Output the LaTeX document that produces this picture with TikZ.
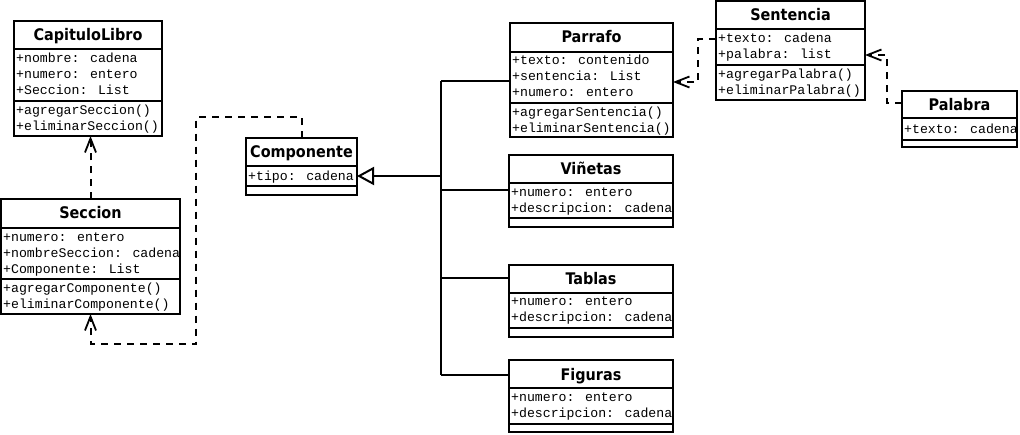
\documentclass[tikz,border=0pt]{standalone}
\usepackage{fontspec}
\usetikzlibrary{arrows.meta}
\newfontfamily\titlefont{DejaVu Sans Condensed}[BoldFont={DejaVu Sans Condensed Bold}]
\newfontfamily\memfont{Liberation Mono}
\newcommand\umlclass[7]{%
  \node[umlbox, minimum width={#4-#2}, minimum height={#5-#3}] (#1) at (#2,#3) {};
  \draw[umlline] (#1.west |- 0,#6) -- (#1.east |- 0,#6);
  \draw[umlline] (#1.west |- 0,#7) -- (#1.east |- 0,#7);}
\begin{document}
\begin{tikzpicture}[x=1pt,y=-1pt,
  umlbox/.style={draw, line width=2pt, anchor=north west, inner sep=0pt, outer sep=0pt},
  umlline/.style={line width=2pt},
  ttl/.style={font=\titlefont\bfseries\fontsize{16}{16}\selectfont, inner sep=0pt, text height=11.5pt, text depth=0pt},
  mem/.style={font=\memfont\fontsize{13.2}{13.2}\selectfont, anchor=west, inner sep=0pt, text height=7pt, text depth=0pt},
  dep/.style={line width=2pt, dash pattern=on 7pt off 6pt, -{Straight Barb[length=14pt,width=11pt,line width=1.8pt]}},
  gen/.style={line width=2pt, -{Triangle[open,length=17pt,width=18pt,line width=2pt]}}]
\useasboundingbox (0,0) rectangle (1020,434);
\fill[white] (0,0) rectangle (1020,434);
% classes
\umlclass{cap}{14}{21}{162}{136}{49}{101}
\node[ttl] (capt) at (88,35) {CapituloLibro};
\node[mem] (cap1) at (16,58.5) {+nombre: cadena};
\node[mem] (cap2) at (16,74.5) {+numero: entero};
\node[mem] (cap3) at (16,90.5) {+Seccion: List};
\node[mem] (cap4) at (16,110.5) {+agregarSeccion()};
\node[mem] (cap5) at (16,127) {+eliminarSeccion()};

\umlclass{sec}{1}{199}{180}{314}{228}{279}
\node[ttl] (sect) at (90.5,213) {Seccion};
\node[mem] (sec1) at (3,237.5) {+numero: entero};
\node[mem] (sec2) at (3,253.5) {+nombreSeccion: cadena};
\node[mem] (sec3) at (3,269.5) {+Componente: List};
\node[mem] (sec4) at (3,288.5) {+agregarComponente()};
\node[mem] (sec5) at (3,304.5) {+eliminarComponente()};

\umlclass{com}{246}{138}{357}{195}{166}{186}
\node[ttl] (comt) at (301.5,152) {Componente};
\node[mem] (com1) at (248,176.5) {+tipo: cadena};

\umlclass{par}{510}{23}{673}{137}{52}{103}
\node[ttl] (part) at (591.5,37) {Parrafo};
\node[mem] (par1) at (512,60.5) {+texto: contenido};
\node[mem] (par2) at (512,76.5) {+sentencia: List};
\node[mem] (par3) at (512,92.5) {+numero: entero};
\node[mem] (par4) at (512,112.5) {+agregarSentencia()};
\node[mem] (par5) at (512,129) {+eliminarSentencia()};

\umlclass{sen}{716}{1}{865}{100}{29}{65}
\node[ttl] (sent) at (790.5,15) {Sentencia};
\node[mem] (sen1) at (718,38.5) {+texto: cadena};
\node[mem] (sen2) at (718,54.5) {+palabra: list};
\node[mem] (sen3) at (718,74.5) {+agregarPalabra()};
\node[mem] (sen4) at (718,90.5) {+eliminarPalabra()};

\umlclass{pal}{902}{91}{1017}{147}{118}{140}
\node[ttl] (palt) at (959.5,105) {Palabra};
\node[mem] (pal1) at (904,129.5) {+texto: cadena};

\umlclass{vin}{509}{155}{673}{227}{183}{218}
\node[ttl] (vint) at (591,169) {Viñetas};
\node[mem] (vin1) at (511,192.5) {+numero: entero};
\node[mem] (vin2) at (511,208.5) {+descripcion: cadena};

\umlclass{tab}{509}{265}{673}{337}{293}{328}
\node[ttl] (tabt) at (591,279) {Tablas};
\node[mem] (tab1) at (511,301.5) {+numero: entero};
\node[mem] (tab2) at (511,317.5) {+descripcion: cadena};

\umlclass{fig}{509}{360}{673}{432}{388}{424}
\node[ttl] (figt) at (591,375) {Figuras};
\node[mem] (fig1) at (511,397.5) {+numero: entero};
\node[mem] (fig2) at (511,413.5) {+descripcion: cadena};

% generalization bus
\coordinate (bt) at (441,81);
\coordinate (bb) at (441,375);
\coordinate (bm) at (441,176);
\draw[umlline] (bt) -- (bb);
\draw[umlline] ([yshift=-58pt]par.north west) -- (bt);
\draw[umlline] ([yshift=-35pt]vin.north west) -- (bm |- 0,190);
\draw[umlline] ([yshift=-13pt]tab.north west) -- (bm |- 0,278);
\draw[umlline] ([yshift=-15pt]fig.north west) -- (bb);
\draw[gen] (bm) -- ([yshift=-38pt]com.north east);

% dependencies
\draw[dep] (sec.north) -- (sec.north |- cap.south);
\coordinate (c1) at (196,117);
\coordinate (c2) at (196,344);
\draw[dep] (com.north) |- (c1) -- (c2) -| (sec.south);
\coordinate (k1) at (698,39);
\draw[dep] ([yshift=-38pt]sen.north west) -- (k1) |- ([yshift=-59pt]par.north east);
\coordinate (k2) at (887,103);
\draw[dep] ([yshift=-12pt]pal.north west) -- (k2) |- ([yshift=-54pt]sen.north east);
\end{tikzpicture}
\end{document}
